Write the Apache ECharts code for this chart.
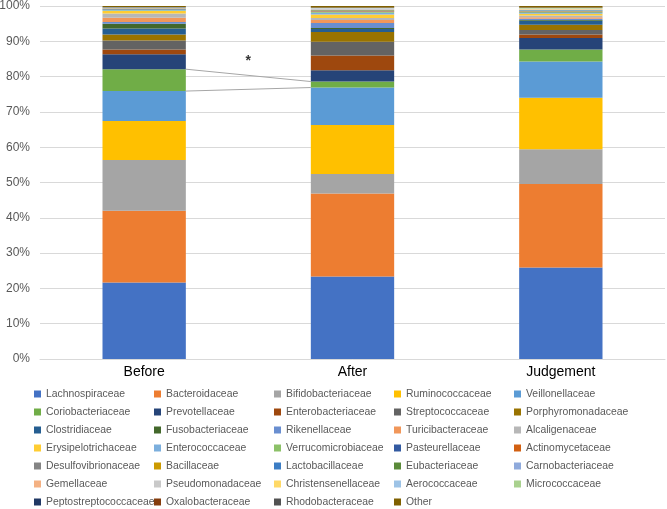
<!DOCTYPE html>
<html lang="en">
<head>
    <meta charset="UTF-8">
    <title>Family composition</title>
    <script src="https://cdn.jsdelivr.net/npm/echarts@6/dist/echarts.min.js"></script>
    <style>
        html, body { margin: 0; padding: 0; background: #fff; }
    </style>
</head>
<body>
    <div id="chart" style="width: 667px; height: 509px;"></div>

    <script>
        // groups on the x axis
        const groups = ['Before', 'After', 'Judgement'];

        // families, bottom to top of each bar (same order as the legend)
        const families = [
            'Lachnospiraceae', 'Bacteroidaceae', 'Bifidobacteriaceae', 'Ruminococcaceae', 'Veillonellaceae',
            'Coriobacteriaceae', 'Prevotellaceae', 'Enterobacteriaceae', 'Streptococcaceae', 'Porphyromonadaceae',
            'Clostridiaceae', 'Fusobacteriaceae', 'Rikenellaceae', 'Turicibacteraceae', 'Alcaligenaceae',
            'Erysipelotrichaceae', 'Enterococcaceae', 'Verrucomicrobiaceae', 'Pasteurellaceae', 'Actinomycetaceae',
            'Desulfovibrionaceae', 'Bacillaceae', 'Lactobacillaceae', 'Eubacteriaceae', 'Carnobacteriaceae',
            'Gemellaceae', 'Pseudomonadaceae', 'Christensenellaceae', 'Aerococcaceae', 'Micrococcaceae',
            'Peptostreptococcaceae', 'Oxalobacteraceae', 'Rhodobacteraceae', 'Other'
        ];

        // relative abundance (%) per family
        const before = [
            21.7, 20.3, 14.4, 11.0, 8.5,
            6.2, 4.2, 1.4, 2.5, 1.7,
            1.7, 1.4, 0.5, 1.2, 1.2,
            0.7, 0.2, 0.15, 0.1, 0.05,
            0.05, 0.05, 0.05, 0.05, 0.05,
            0.05, 0.05, 0.05, 0.05, 0.05,
            0.03, 0.03, 0.04, 0.3
        ];
        const after = [
            23.4, 23.5, 5.5, 13.9, 10.6,
            1.7, 3.2, 4.2, 3.9, 2.7,
            0.9, 0.3, 1.4, 0.8, 0.6,
            1.0, 0.5, 0.2, 0.1, 0.1,
            0.1, 0.1, 0.1, 0.1, 0.1,
            0.1, 0.1, 0.1, 0.1, 0.05,
            0.05, 0.05, 0.05, 0.4
        ];
        const judgement = [
            25.9, 23.7, 9.8, 14.6, 10.3,
            3.4, 3.2, 1.0, 1.3, 1.5,
            1.1, 0.2, 0.4, 0.4, 0.5,
            0.5, 0.2, 0.2, 0.1, 0.1,
            0.1, 0.1, 0.1, 0.1, 0.1,
            0.1, 0.1, 0.1, 0.1, 0.1,
            0.05, 0.05, 0.05, 0.45
        ];

        // y axis ticks
        const yTicks = [0, 10, 20, 30, 40, 50, 60, 70, 80, 90, 100];

        // Excel-like palette
        const palette = [
            '#4472C4', '#ED7D31', '#A5A5A5', '#FFC000', '#5B9BD5', '#70AD47',
            '#264478', '#9E480E', '#636363', '#997300', '#255E91', '#43682B',
            '#698ED0', '#F1975A', '#B7B7B7', '#FFCD33', '#7CAFDD', '#8CC168',
            '#335AA1', '#D26012', '#848484', '#CC9A00', '#3C7DC4', '#5A8A39',
            '#8FAADC', '#F4B183', '#C9C9C9', '#FFD966', '#9DC3E6', '#A9D18E',
            '#203864', '#843C0C', '#525252', '#7F6000'
        ];

        const barFrac = 0.4;        // bar width as share of category
        const highlight = 'Coriobacteriaceae';
        const starMark = [0.5, 84.5];

        // cumulative bottom/top of a family in a group
        function segment(vals, idx) {
            let lo = 0;
            for (let i = 0; i < idx; i++) lo += vals[i];
            return [lo, lo + vals[idx]];
        }

        const hi = families.indexOf(highlight);
        const segBefore = segment(before, hi);
        const segAfter = segment(after, hi);
        const half = barFrac / 2;

        const barSeries = families.map((name, i) => ({
            name: name,
            type: 'bar',
            stack: 'total',
            barWidth: (barFrac * 100) + '%',
            itemStyle: { color: palette[i] },
            data: [before[i], after[i], judgement[i]]
        }));

        const connectorStyle = { color: '#A6A6A6', width: 1 };
        const extraSeries = [
            {
                type: 'line', xAxisIndex: 1, symbol: 'none', silent: true,
                lineStyle: connectorStyle,
                data: [[0 + half, segBefore[1]], [1 - half, segAfter[1]]]
            },
            {
                type: 'line', xAxisIndex: 1, symbol: 'none', silent: true,
                lineStyle: connectorStyle,
                data: [[0 + half, segBefore[0]], [1 - half, segAfter[0]]]
            },
            {
                type: 'scatter', xAxisIndex: 1, symbolSize: 0, silent: true,
                label: {
                    show: true, position: 'inside', formatter: '*',
                    fontSize: 14, fontWeight: 'bold', color: '#000',
                    fontFamily: 'Liberation Sans'
                },
                data: [starMark]
            }
        ];

        // legend: 5 columns, filled row by row
        const cols = 5;
        const colLeft = [34, 154, 274, 394, 514];
        const legends = colLeft.map((left, c) => ({
            orient: 'vertical',
            left: left,
            top: 387,
            height: 140,
            padding: 0,
            itemWidth: 7,
            itemHeight: 7,
            itemGap: 4,
            icon: 'rect',
            selectedMode: false,
            textStyle: {
                fontFamily: 'Liberation Sans',
                fontSize: 10.4,
                lineHeight: 14,
                color: '#595959'
            },
            data: families.filter((_, i) => i % cols === c)
        }));

        const chart = echarts.init(document.getElementById('chart'));
        chart.setOption({
            animation: false,
            grid: { left: 40, right: 2, top: 6, bottom: 150, outerBoundsMode: 'none' },
            legend: legends,
            xAxis: [
                {
                    type: 'category',
                    data: groups,
                    axisTick: { show: false },
                    axisLine: { lineStyle: { color: '#D9D9D9' } },
                    axisLabel: {
                        color: '#000',
                        fontSize: 14,
                        margin: 6,
                        fontFamily: 'Liberation Sans'
                    }
                },
                {
                    type: 'value',
                    min: -0.5,
                    max: 2.5,
                    show: false
                }
            ],
            yAxis: {
                type: 'value',
                min: yTicks[0],
                max: yTicks[yTicks.length - 1],
                interval: yTicks[1] - yTicks[0],
                axisLine: { show: false },
                axisTick: { show: false },
                splitLine: { lineStyle: { color: '#D9D9D9' } },
                axisLabel: {
                    formatter: '{value}%',
                    color: '#595959',
                    fontSize: 12,
                    margin: 10,
                    fontFamily: 'Liberation Sans'
                }
            },
            series: barSeries.concat(extraSeries)
        });
    </script>
</body>
</html>
